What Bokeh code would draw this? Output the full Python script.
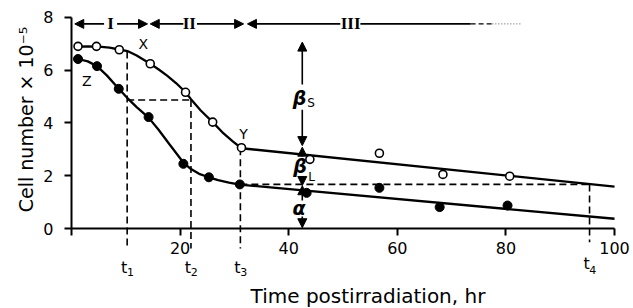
import math
from bokeh.plotting import figure
from bokeh.models import Range1d, Arrow, NormalHead, ColumnDataSource, FixedTicker
from bokeh.core.properties import value
from bokeh.embed import file_html
from bokeh.resources import INLINE

# ---------------- data ----------------
# measured cell numbers (x 10^-5) vs time postirradiation (hr)
open_x = [1.2, 4.6, 8.8, 14.5, 21.0, 26.0, 31.3, 43.9, 56.7, 68.4, 80.7]
open_y = [6.9, 6.9, 6.77, 6.24, 5.16, 4.03, 3.06, 2.62, 2.85, 2.05, 1.98]
filled_x = [1.2, 4.7, 8.7, 14.2, 20.6, 25.3, 31.0, 43.3, 56.7, 67.8, 80.3]
filled_y = [6.42, 6.15, 5.29, 4.22, 2.45, 1.94, 1.67, 1.35, 1.54, 0.81, 0.87]

# fitted curves
upper_curve_x = [1.2, 3, 5, 7, 8.8, 10.3, 12, 14.5, 16, 17.6, 19.3, 21, 22, 23.8, 26, 28, 29.7, 31.3, 100]
upper_curve_y = [6.89, 6.9, 6.89, 6.85, 6.78, 6.72, 6.55, 6.24, 6.03, 5.79, 5.5, 5.16, 4.9, 4.47, 4.03, 3.6, 3.3, 3.04, 1.59]
lower_curve_x = [1.2, 3, 4.7, 6.5, 8.7, 10.25, 12, 14.2, 16, 18, 20.6, 22, 23.5, 25.3, 27, 29, 31, 100]
lower_curve_y = [6.42, 6.33, 6.15, 5.8, 5.29, 4.95, 4.6, 4.2, 3.75, 3.2, 2.5, 2.25, 2.07, 1.94, 1.83, 1.74, 1.66, 0.37]

# characteristic times
t_names = ["1", "2", "3", "4"]
t_vals = [10.25, 22.0, 31.1, 95.4]
t_top = [6.70, 4.87, 3.04, 1.67]
t_bottom = [-0.76, -0.76, -0.76, -0.52]
t_label_y = [-1.47, -1.47, -1.47, -1.33]
t_sub_y = [-1.65, -1.65, -1.65, -1.57]
# horizontal construction lines (level, from t index, to t index)
h_levels = [4.87, 1.67]
h_from = [0, 2]
h_to = [1, 3]

# axis ticks
x_ticks = [0, 20, 40, 60, 80, 100]
y_ticks = [0, 2, 4, 6, 8]

# phases
phase_names = ["I", "II", "III"]
phase_x = [7.2, 21.7, 51.4]
phase_level = 7.75
phase_start = [0.6, 14.5, 32.4]
phase_end = [14.0, 31.7, 73.5]
phase_gap_l = [6.0, 20.6, 49.5]
phase_gap_r = [8.4, 23.1, 53.2]

# ---------------- figure ----------------
p = figure(width=633, height=308, x_range=Range1d(-12.89, 103.31), y_range=Range1d(-2.992, 8.598),
           output_backend="svg", toolbar_location=None,
           min_border_left=1, min_border_right=1, min_border_top=1, min_border_bottom=1)
p.outline_line_color = None
p.grid.visible = False
p.background_fill_color = "white"

FONT = "DejaVu Sans"

p.xaxis.fixed_location = 0
p.xaxis.bounds = (0, 100)
p.xaxis.ticker = FixedTicker(ticks=x_ticks)
p.xaxis.major_label_overrides = {0: ""}
p.yaxis.fixed_location = 0
p.yaxis.bounds = (0, 8)
p.yaxis.ticker = FixedTicker(ticks=y_ticks)
for ax in (p.xaxis, p.yaxis):
    ax.axis_line_width = 2
    ax.axis_line_color = "black"
    ax.major_tick_line_width = 2
    ax.major_tick_line_color = "black"
    ax.major_tick_out = 7
    ax.major_tick_in = 0
    ax.minor_tick_line_color = None
    ax.major_label_text_font = FONT
    ax.major_label_text_font_size = "16px"
    ax.major_label_text_color = "black"
p.xaxis.major_label_standoff = 6
p.yaxis.major_label_standoff = 11

# y axis title
p.text(x=[-8.4], y=[4.13], text=["Cell number × 10⁻⁵"], angle=math.pi / 2, text_font=value(FONT),
       text_font_size=value("19px"), text_align="center", text_baseline="middle", text_color="black")

# construction dashed lines
p.segment(x0=t_vals, y0=t_top, x1=t_vals, y1=t_bottom, line_color="black", line_width=1.6, line_dash="7 4")
hx0 = [t_vals[i] for i in h_from]
hx1 = [t_vals[i] for i in h_to]
p.segment(x0=hx0, y0=h_levels, x1=hx1, y1=h_levels, line_color="black", line_width=1.6, line_dash="7 4")

# curves
p.line(upper_curve_x, upper_curve_y, line_color="black", line_width=2.3)
p.line(lower_curve_x, lower_curve_y, line_color="black", line_width=2.3)

# points
p.scatter(open_x, open_y, marker="circle", size=8, fill_color="white", line_color="black", line_width=1.6)
p.scatter(filled_x, filled_y, marker="circle", size=9, fill_color="black", line_color="black")

# phase arrows
ax0, ay0, ax1, ay1 = [], [], [], []
for i in range(3):
    ax0.append(phase_gap_l[i]); ay0.append(phase_level); ax1.append(phase_start[i]); ay1.append(phase_level)
    if i < 2:
        ax0.append(phase_gap_r[i]); ay0.append(phase_level); ax1.append(phase_end[i]); ay1.append(phase_level)

# beta / alpha arrows at x = 42.5
arrow_x = 42.5
b_start = [5.45, 4.5, 2.72, 1.98, 1.06, 0.45]
b_end = [7.06, 3.14, 3.08, 1.63, 1.62, 0.03]
for s, e in zip(b_start, b_end):
    ax0.append(arrow_x); ay0.append(s); ax1.append(arrow_x); ay1.append(e)

arr_src = ColumnDataSource(dict(x0=ax0, y0=ay0, x1=ax1, y1=ay1))
p.add_layout(Arrow(x_start="x0", y_start="y0", x_end="x1", y_end="y1", source=arr_src,
                   line_color="black", line_width=1.6,
                   end=NormalHead(size=9, fill_color="black", line_color="black", line_width=1)))
# phase III tail (no head)
p.segment(x0=[phase_gap_r[2]], y0=[phase_level], x1=[phase_end[2]], y1=[phase_level], line_color="black", line_width=1.6)
p.segment(x0=[73.5], y0=[phase_level], x1=[77.5], y1=[phase_level], line_color="black", line_width=1.3, line_dash="5 3")
p.segment(x0=[77.5], y0=[phase_level], x1=[82.7], y1=[phase_level], line_color="#555555", line_width=1, line_dash="1 2")

# phase labels
p.text(x=phase_x, y=[phase_level] * 3, text=phase_names, text_font=value("Liberation Serif"),
       text_font_size=value("17px"), text_font_style="bold", text_align="center", text_baseline="middle", text_color="black")

# point letters
p.text(x=[13.2, 2.8, 31.7], y=[6.98, 5.57, 3.59], text=["X", "Z", "Y"], text_font=value(FONT),
       text_font_size=value("14px"), text_align="center", text_baseline="middle", text_color="black")

# t labels
p.text(x=[t - 0.55 for t in t_vals], y=t_label_y, text=["t"] * 4, text_font=value(FONT),
       text_font_size=value("16px"), text_align="center", text_baseline="middle", text_color="black")
p.text(x=[t + 0.6 for t in t_vals], y=t_sub_y, text=t_names, text_font=value(FONT),
       text_font_size=value("11px"), text_align="center", text_baseline="middle", text_color="black")

# greek labels
p.text(x=[42.0, 42.1, 41.9], y=[4.95, 2.35, 0.76], text=["β", "β", "α"], text_font=value(FONT),
       text_font_size=value("19px"), text_font_style="bold italic", text_align="center", text_baseline="middle", text_color="black")
p.text(x=[44.1, 44.2], y=[4.75, 1.94], text=["S", "L"], text_font=value(FONT),
       text_font_size=value("12px"), text_align="center", text_baseline="middle", text_color="black")

# x axis title
p.text(x=[54.6], y=[-2.54], text=["Time postirradiation, hr"], text_font=value(FONT),
       text_font_size=value("20px"), text_align="center", text_baseline="middle", text_color="black")

open("out.html", "w").write(file_html(p, INLINE))
